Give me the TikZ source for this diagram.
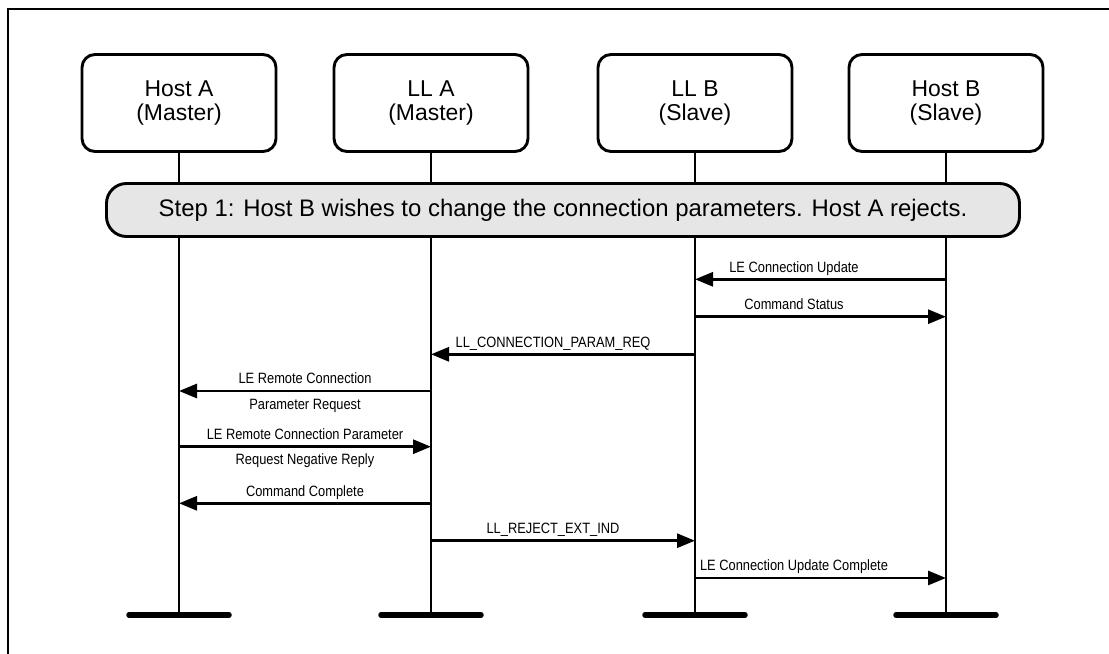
\documentclass[tikz,border=0pt]{standalone}
\usepackage{fontspec}
\setmainfont{Liberation Sans}
\newfontfamily\narrowfont[FakeStretch=0.86]{Liberation Sans}
\usetikzlibrary{arrows.meta}
\definecolor{bannergray}{HTML}{E6E6E6}
\begin{document}
\begin{tikzpicture}[x=1bp,y=-1bp,
  party/.style={draw, line width=2.9bp, rounded corners=13bp, minimum width=194bp, minimum height=97bp,
    align=center, font=\fontsize{23}{25}\selectfont, inner sep=0pt},
  lifeline/.style={line width=2.9bp},
  endbar/.style={line width=5.5bp, line cap=round},
  msg/.style={line width=2.9bp, -{Triangle[length=18bp,width=14bp]}},
  lbl/.style={font=\narrowfont\fontsize{15}{17}\selectfont, inner sep=0pt, anchor=base},
  banner/.style={draw, fill=bannergray, line width=2.9bp, rounded corners=20bp, minimum width=913bp,
    minimum height=53bp, font=\fontsize{24}{26}\selectfont, inner sep=0pt}]
\useasboundingbox (0,0) rectangle (1109,654);
% outer frame (left and top edges)
\coordinate (fbl) at (8,654);
\coordinate (ftl) at (8,9);
\coordinate (ftr) at (1109,9);
\draw[line width=2.9bp] (fbl) -- (ftl) -- (ftr);
% parties
\node[party] (ha) at (179,103) {Host A\\(Master)};
\node[party] (lla) at (431,103) {LL A\\(Master)};
\node[party] (llb) at (695,103) {LL B\\(Slave)};
\node[party] (hb) at (946,103) {Host B\\(Slave)};
% lifeline ends
\coordinate (ha-end) at (179,615);
\coordinate (lla-end) at (431,615);
\coordinate (llb-end) at (695,615);
\coordinate (hb-end) at (946,615);
\foreach \p in {ha,lla,llb,hb}{
  \draw[lifeline] (\p.south) -- (\p-end);
  \draw[endbar] ([xshift=-50bp]\p-end) -- ([xshift=50bp]\p-end);
}
% banner
\node[banner] (step) at (563,210) {Step 1: Host B wishes to change the connection parameters. Host A rejects.};
% message rows
\coordinate (m1) at (0,279.3);
\coordinate (m2) at (0,316.7);
\coordinate (m3) at (0,354.3);
\coordinate (m4) at (0,391);
\coordinate (m5) at (0,446.7);
\coordinate (m6) at (0,503.3);
\coordinate (m7) at (0,540.7);
\coordinate (m8) at (0,578);
\draw[msg] (hb-end |- m1) -- (llb-end |- m1);
\draw[msg] (llb-end |- m2) -- (hb-end |- m2);
\draw[msg] (llb-end |- m3) -- (lla-end |- m3);
\draw[msg] (lla-end |- m4) -- (ha-end |- m4);
\draw[msg] (ha-end |- m5) -- (lla-end |- m5);
\draw[msg] (lla-end |- m6) -- (ha-end |- m6);
\draw[msg] (lla-end |- m7) -- (llb-end |- m7);
\draw[msg] (llb-end |- m8) -- (hb-end |- m8);
% labels
\node[lbl] (t1) at (794,272) {LE Connection Update};
\node[lbl] (t2) at (794,309.4) {Command Status};
\node[lbl] (t3) at (553,347) {LL\_CONNECTION\_PARAM\_REQ};
\node[lbl] (t4a) at (305,383.7) {LE Remote Connection};
\node[lbl] (t4b) at (305,409) {Parameter Request};
\node[lbl] (t5a) at (305,439.4) {LE Remote Connection Parameter};
\node[lbl] (t5b) at (305,464.7) {Request Negative Reply};
\node[lbl] (t6) at (305,496) {Command Complete};
\node[lbl] (t7) at (553,533.4) {LL\_REJECT\_EXT\_IND};
\node[lbl] (t8) at (794,570.7) {LE Connection Update Complete};
\end{tikzpicture}
\end{document}
